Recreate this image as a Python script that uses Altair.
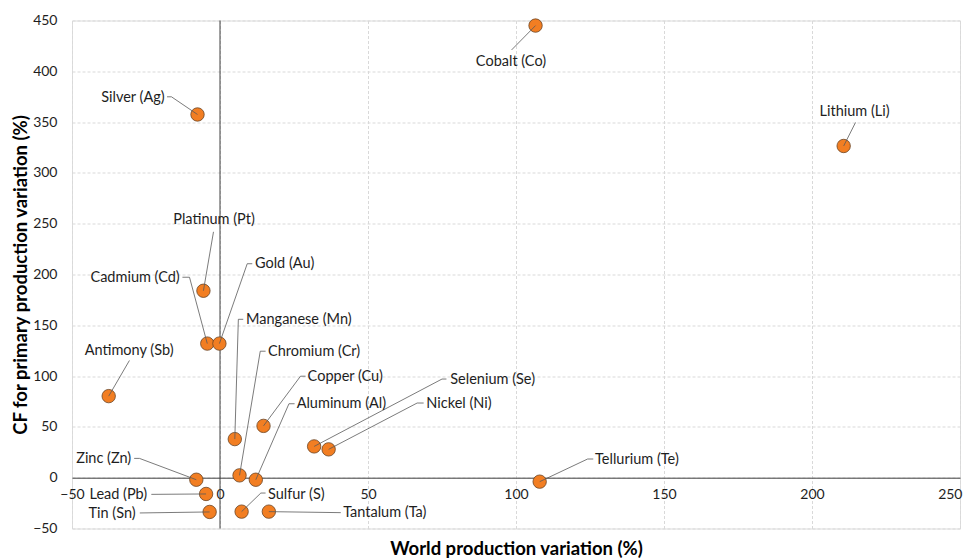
import altair as alt
import pandas as pd

# ---------------- data ----------------
names = ["Cobalt (Co)", "Lithium (Li)", "Silver (Ag)", "Platinum (Pt)", "Cadmium (Cd)",
         "Gold (Au)", "Manganese (Mn)", "Chromium (Cr)", "Copper (Cu)", "Aluminum (Al)",
         "Antimony (Sb)", "Zinc (Zn)", "Selenium (Se)", "Nickel (Ni)", "Lead (Pb)",
         "Tin (Sn)", "Sulfur (S)", "Tantalum (Ta)", "Tellurium (Te)"]

world_var = [106.6, 210.7, -7.6, -5.6, -4.3, -0.2, 5.0, 6.6, 14.7, 12.1,
             -37.6, -8.0, 31.8, 36.7, -4.7, -3.5, 7.3, 16.5, 108.0]
cf_var = [445, 326.5, 357.5, 184, 132, 132, 38, 2.3, 51, -2,
          80.3, -2, 30.8, 27.9, -16, -33.7, -33.4, -33.4, -3.9]

# label anchors (data units) and alignment
label_x = [98.3, 214.4, -18.7, -2.0, -13.6, 11.8, 8.8, 16.2, 29.6, 25.9,
           -30.7, -30.0, 77.8, 69.7, -24.6, -28.5, 16.2, 41.6, 126.7]
label_y = [409.6, 360.1, 374.2, 253.8, 196.5, 210.3, 155.5, 123.7, 99.1, 72.1,
           124.9, 18.0, 95.7, 72.5, -17.4, -35.7, -16.7, -35.1, 17.0]
label_align = ["center", "center", "right", "center", "right", "left", "left", "left", "left", "left",
               "center", "right", "left", "left", "right", "right", "left", "left", "left"]

# leader-line elbows (label side first), the point itself is appended
leader_x = [[98.5], [214.7], [-17.9, -16.4], [-2.2], [-12.7, -10.3], [10.9, 9.2], [7.85, 6.2],
            [15.4, 13.6], [28.9, 27.2], [25.2, 23.3], [-30.6], [-29.0, -27.2], [76.5, 75.0],
            [68.8, 66.6], [-23.2], [-27.1], [15.4, 13.8], [40.8], [126.1, 124.2]]
leader_y = [[421.0], [349.6], [374.9, 374.9], [242.0], [197.3, 197.3], [210.6, 210.6], [155.9, 155.9],
            [124.5, 124.5], [99.9, 99.9], [72.8, 72.8], [115.4], [19.0, 19.0], [97.1, 97.1],
            [73.5, 73.5], [-16.4], [-34.7], [-15.1, -15.1], [-34.4], [18.4, 18.4]]

x_ticks = [-50, 0, 50, 100, 150, 200, 250]
y_ticks = [-50, 0, 50, 100, 150, 200, 250, 300, 350, 400, 450]
x_title = "World production variation (%)"
y_title = "CF for primary production variation (%)"

# ---------------- tables ----------------
points_df = pd.DataFrame({"name": names, "x": world_var, "y": cf_var})
labels_df = pd.DataFrame({"name": names, "lx": label_x, "ly": label_y, "align": label_align})
rows = []
for n, xs, ys, px, py in zip(names, leader_x, leader_y, world_var, cf_var):
    k = 0
    for a, b in zip(xs, ys):
        rows.append({"name": n, "x": a, "y": b, "seq": k})
        k += 1
    rows.append({"name": n, "x": px, "y": py, "seq": k})
leader_df = pd.DataFrame(rows)
zero_df = pd.DataFrame({"x": [0]})

W, H = 888, 508
FONT = "Lato"
TXT = "#1e1e1e"
xscale = alt.Scale(domain=[-50, 250], nice=False, zero=False)
yscale = alt.Scale(domain=[-50, 450], nice=False, zero=False)

last_tick = "datum.value === 250"
x_axis = alt.Axis(title=x_title, values=x_ticks, offset=-H * 50 / 500,
                  domain=True, domainColor="#404040", domainWidth=1,
                  ticks=False, labelPadding=10, labelFontSize=14, labelColor=TXT,
                  labelFont=FONT, labelFlush=False, labelOverlap=False,
                  labelAlign={"condition": {"test": last_tick, "value": "right"}, "value": "center"},
                  labelOffset={"condition": {"test": last_tick, "value": 2}, "value": 0},
                  grid=True, gridColor="#d9d9d9", gridDash=[3, 2],
                  titleFont=FONT, titleFontSize=18.5, titleFontWeight="bold", titleColor="#000000",
                  titleY=71, titleBaseline="middle")
y_axis = alt.Axis(title=y_title, values=y_ticks, domain=False, ticks=False,
                  labelPadding=15, labelFontSize=14, labelColor=TXT, labelFont=FONT,
                  labelFlush=False, labelOverlap=False,
                  grid=True, gridColor="#d9d9d9", gridDash=[3, 2],
                  titleFont=FONT, titleFontSize=18.5, titleFontWeight="bold", titleColor="#000000",
                  titleX=-52, titleY=H / 2, titleBaseline="middle", titleAlign="center", titleAngle=270)

base_x = alt.X("x:Q", scale=xscale, axis=x_axis)
base_y = alt.Y("y:Q", scale=yscale, axis=y_axis)

zero_rule = alt.Chart(zero_df).mark_rule(color="#404040", strokeWidth=1).encode(
    x=alt.X("x:Q", scale=xscale))

pts = alt.Chart(points_df).mark_circle(size=180, color="#F27E22", opacity=1,
                                       stroke="#6b4423", strokeWidth=0.8).encode(x=base_x, y=base_y)

leaders = alt.Chart(leader_df).mark_line(color="#595959", strokeWidth=0.8).encode(
    x=alt.X("x:Q", scale=xscale), y=alt.Y("y:Q", scale=yscale),
    detail="name:N", order="seq:Q")

def label_layer(al):
    return alt.Chart(labels_df).transform_filter(alt.datum.align == al).mark_text(
        align=al, baseline="middle", font=FONT, fontSize=14.5, color=TXT).encode(
        x=alt.X("lx:Q", scale=xscale), y=alt.Y("ly:Q", scale=yscale), text="name:N")

chart = alt.layer(zero_rule, pts, leaders, label_layer("left"), label_layer("right"),
                  label_layer("center")).properties(
    width=W, height=H,
    autosize=alt.AutoSizeParams(type="none"),
    padding={"left": 64, "top": 12.5, "right": 3, "bottom": 31},
).configure_view(stroke="#595959", strokeWidth=1).configure(background="white")

chart.save("out.html", embed_options={"renderer": "svg", "actions": False})
